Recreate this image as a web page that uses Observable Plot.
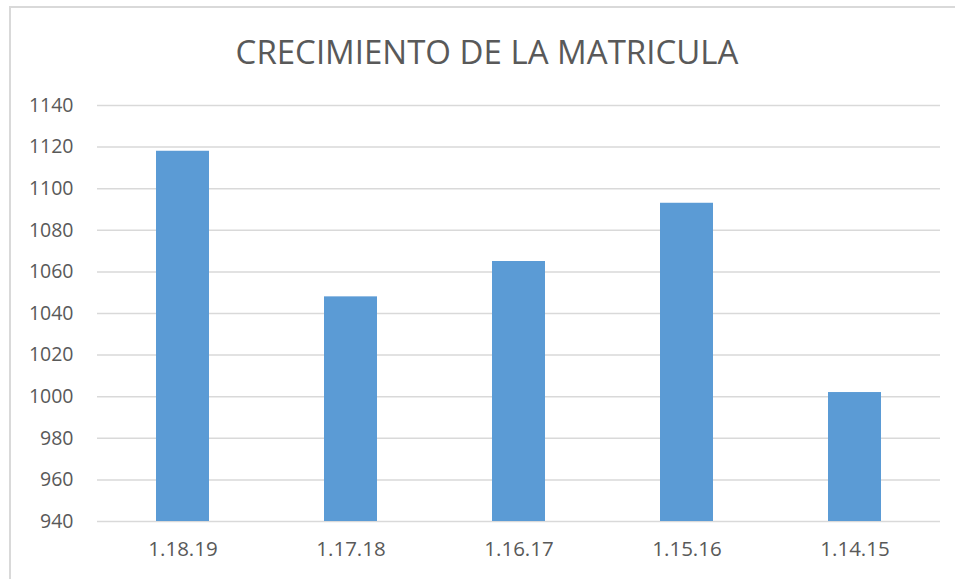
<!DOCTYPE html>
<html>
<head>
<meta charset="utf-8">
<script src="https://cdn.jsdelivr.net/npm/d3@7"></script>
<script src="https://cdn.jsdelivr.net/npm/@observablehq/plot@0.6"></script>
<style>
  body { margin: 0; background: #fff; }
  #wrap { position: relative; width: 955px; height: 579px; overflow: hidden; background: #fff; }
  #frame { position: absolute; left: 9px; top: 6px; width: 1000px; height: 700px; border: 2px solid #d9d9d9; box-sizing: border-box; }
  #title { position: absolute; left: 0; top: 0; }
  #chart { position: absolute; left: 0; top: 0; }
</style>
</head>
<body>
<div id="wrap">
  <div id="frame"></div>
  <div id="chart"></div>
  <svg id="title" width="955" height="80">
    <text x="487" y="64" text-anchor="middle" font-family="'Open Sans', sans-serif" font-size="33" fill="#595959">CRECIMIENTO DE LA MATRICULA</text>
  </svg>
</div>
<script>
const categories = ["1.18.19", "1.17.18", "1.16.17", "1.15.16", "1.14.15"];
const matricula = [1118, 1048, 1065, 1093, 1002];
const yTicks = [940, 960, 980, 1000, 1020, 1040, 1060, 1080, 1100, 1120, 1140];
const baseline = 940;

const data = categories.map((c, i) => ({ cat: c, value: matricula[i] }));

const chart = Plot.plot({
  width: 955,
  height: 579,
  marginLeft: 97,
  marginRight: 15,
  marginTop: 105,
  marginBottom: 58,
  style: { fontFamily: "'Open Sans', sans-serif", color: "#595959", background: "transparent", overflow: "visible" },
  x: { domain: categories, paddingInner: 0.685, paddingOuter: 0.3425, label: null },
  y: { domain: [940, 1140], label: null },
  marks: [
    Plot.ruleY(yTicks, { stroke: "#d9d9d9", strokeWidth: 1.5, strokeOpacity: 1 }),
    Plot.barY(data, { x: "cat", y1: baseline, y2: "value", fill: "#5b9bd5" }),
    Plot.axisY({ ticks: yTicks, tickFormat: d => String(d), tickSize: 0, tickPadding: 24, fontSize: 19.5, fill: "#595959", label: null }),
    Plot.axisX({ tickSize: 0, tickPadding: 20, fontSize: 20.5, fill: "#595959", label: null })
  ]
});
document.getElementById("chart").appendChild(chart);
</script>
</body>
</html>
